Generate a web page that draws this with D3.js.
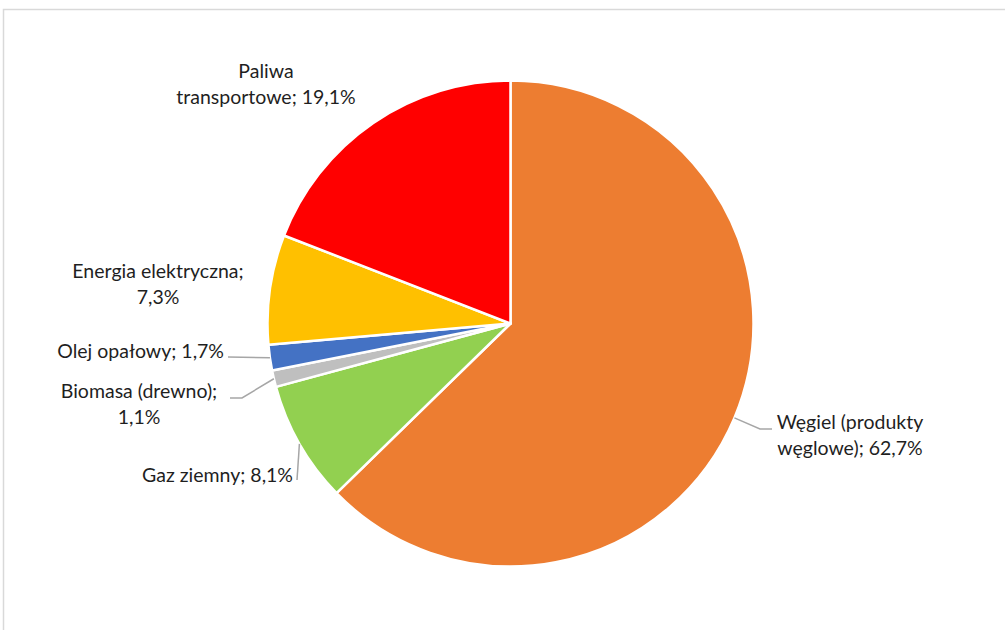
<!DOCTYPE html>
<html>
<head>
<meta charset="utf-8">
<script src="https://cdn.jsdelivr.net/npm/d3@7"></script>
<style>
  body { margin: 0; background: #fff; }
  svg { display: block; }
  .lbl { font-family: Lato, "Open Sans", sans-serif; font-size: 19.5px; fill: #1f1f1f; }
</style>
</head>
<body>
<svg id="chart" width="1005" height="630"></svg>
<script>
// data
const categories = ["Węgiel (produkty węglowe)", "Gaz ziemny", "Biomasa (drewno)", "Olej opałowy", "Energia elektryczna", "Paliwa transportowe"];
const shares = [62.7, 8.1, 1.1, 1.7, 7.3, 19.1];
const labelTexts = [
    ["Węgiel (produkty", "węglowe); 62,7%"],
    ["Gaz ziemny; 8,1%"],
    ["Biomasa (drewno);", "1,1%"],
    ["Olej opałowy; 1,7%"],
    ["Energia elektryczna;", "7,3%"],
    ["Paliwa", "transportowe; 19,1%"]
];
const colors = ["#ED7D31", "#92D050", "#BFBFBF", "#4472C4", "#FFC000", "#FF0000"];

// label placement (layout only)
const labelLayout = [
    { x: 850, y: 429, anchor: "middle", leader: [[760, 429], [772, 429]] },
    { x: 293, y: 482, anchor: "end", leader: [[297, 480]] },
    { x: 139, y: 398, anchor: "middle", leader: [[242, 398], [230, 398]] },
    { x: 224, y: 358, anchor: "end", leader: [[228, 357]] },
    { x: 158, y: 278, anchor: "middle", leader: null },
    { x: 266, y: 78, anchor: "middle", leader: null }
];

const svg = d3.select("#chart");
const cx = 510.5, cy = 323.5, r = 243;
const lineHeight = 25.5;

// chart area border
svg.append("rect")
    .attr("x", 3.5).attr("y", 9.5)
    .attr("width", 1010).attr("height", 640)
    .attr("fill", "none")
    .attr("stroke", "#d9d9d9")
    .attr("stroke-width", 1.5);

const pie = d3.pie().sort(null).value(d => d);
const arcs = pie(shares);
const arc = d3.arc().innerRadius(0).outerRadius(r);

const g = svg.append("g").attr("transform", `translate(${cx},${cy})`);

g.selectAll("path.slice")
    .data(arcs)
    .join("path")
    .attr("class", "slice")
    .attr("d", arc)
    .attr("fill", (d, i) => colors[i])
    .attr("stroke", "#fff")
    .attr("stroke-width", 2.5)
    .attr("stroke-linejoin", "round");

// leader lines from slice edge
const line = d3.line();
arcs.forEach((d, i) => {
    const lay = labelLayout[i];
    if (!lay.leader) return;
    const mid = (d.startAngle + d.endAngle) / 2;
    const start = [cx + r * Math.sin(mid), cy - r * Math.cos(mid)];
    svg.append("path")
        .attr("d", line([start, ...lay.leader]))
        .attr("fill", "none")
        .attr("stroke", "#a6a6a6")
        .attr("stroke-width", 1.5);
});

// data labels
labelTexts.forEach((lines, i) => {
    const lay = labelLayout[i];
    const t = svg.append("text")
        .attr("class", "lbl")
        .attr("text-anchor", lay.anchor);
    lines.forEach((s, j) => {
        t.append("tspan")
            .attr("x", lay.x)
            .attr("y", lay.y + j * lineHeight)
            .text(s);
    });
});
</script>
</body>
</html>
